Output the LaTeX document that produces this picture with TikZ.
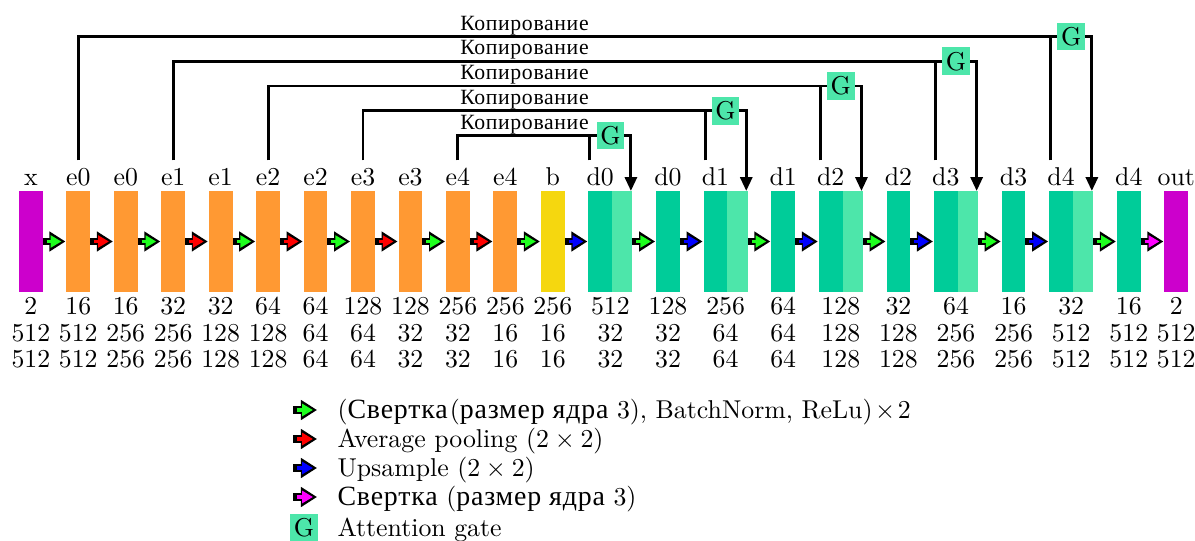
\documentclass[tikz,border=0pt]{standalone}
\usepackage{fontspec}
\newfontfamily\cyr{Liberation Serif}[Scale=1.08, LetterSpace=3.0]
\usetikzlibrary{arrows.meta}

\definecolor{inmag}{RGB}{204,0,204}
\definecolor{encor}{RGB}{255,153,51}
\definecolor{botyel}{RGB}{245,215,15}
\definecolor{decteal}{RGB}{0,204,153}
\definecolor{gatemint}{RGB}{77,230,170}
\definecolor{opgreen}{RGB}{30,255,30}
\definecolor{opred}{RGB}{255,0,0}
\definecolor{opblue}{RGB}{0,0,255}
\definecolor{oppink}{RGB}{255,0,255}

\tikzset{
  bar/.style={draw=none, minimum width=9.19pt, minimum height=39.15pt, inner sep=0pt, outer sep=0pt},
  catbar/.style={bar, fill=gatemint, minimum width=7.87pt},
  lbl/.style={anchor=base, inner xsep=1pt, inner ysep=2.6pt, text height=6.9pt, text depth=0pt},
  num/.style={anchor=base, inner sep=1pt},
  copylbl/.style={anchor=base, font=\cyr\fontsize{7.8}{10}\selectfont, inner sep=1pt},
  gate/.style={fill=gatemint, minimum size=10.66pt, inner sep=0pt, outer sep=0pt},
  skip/.style={line width=1.16pt},
  skiparrow/.style={skip, -{Triangle[length=5.4pt,width=4.65pt]}},
  opout/.style={line width=3pt, -{Triangle[length=6.2pt,width=7.4pt]}},
  opin/.style={line width=1.3pt, draw=#1, -{Triangle[length=4.2pt,width=4.6pt]}},
  legtext/.style={anchor=base west, inner sep=0pt},
}

% operation arrow between two blocks: black body with a coloured core
\newcommand\oparr[3]{%
  \draw[opout] (#1.east) -- ([xshift=-0.39pt]#2.west);
  \draw[opin=#3] ([xshift=1.55pt]#1.east) -- ([xshift=-1.94pt]#2.west);
}
% the same arrow between two free coordinates (legend)
\newcommand\legarr[3]{%
  \draw[opout] (#1) -- ([xshift=-0.39pt]#2);
  \draw[opin=#3] ([xshift=1.55pt]#1) -- ([xshift=-1.94pt]#2);
}

\begin{document}
\begin{tikzpicture}[x=0.3876pt, y=-0.3876pt]
\useasboundingbox (0,0) rectangle (1195,541);

% ---------- blocks ----------
\node[bar, fill=inmag]   (b0)  at (30.85,241.5) {};
\node[bar, fill=encor]   (b1)  at (78.3,241.5) {};
\node[bar, fill=encor]   (b2)  at (125.75,241.5) {};
\node[bar, fill=encor]   (b3)  at (173.2,241.5) {};
\node[bar, fill=encor]   (b4)  at (220.65,241.5) {};
\node[bar, fill=encor]   (b5)  at (268.1,241.5) {};
\node[bar, fill=encor]   (b6)  at (315.55,241.5) {};
\node[bar, fill=encor]   (b7)  at (363,241.5) {};
\node[bar, fill=encor]   (b8)  at (410.45,241.5) {};
\node[bar, fill=encor]   (b9)  at (457.9,241.5) {};
\node[bar, fill=encor]   (b10) at (505.35,241.5) {};
\node[bar, fill=botyel]  (b11) at (552.8,241.5) {};
\node[bar, fill=decteal] (b12) at (600.25,241.5) {};
\node[catbar]            (c12) at (622.25,241.5) {};
\node[bar, fill=decteal] (b13) at (668,241.5) {};
\node[bar, fill=decteal] (b14) at (715.45,241.5) {};
\node[catbar]            (c14) at (737.6,241.5) {};
\node[bar, fill=decteal] (b15) at (783.2,241.5) {};
\node[bar, fill=decteal] (b16) at (830.65,241.5) {};
\node[catbar]            (c16) at (852.8,241.5) {};
\node[bar, fill=decteal] (b17) at (898.4,241.5) {};
\node[bar, fill=decteal] (b18) at (945.85,241.5) {};
\node[catbar]            (c18) at (968,241.5) {};
\node[bar, fill=decteal] (b19) at (1013.6,241.5) {};
\node[bar, fill=decteal] (b20) at (1061.05,241.5) {};
\node[catbar]            (c20) at (1083.2,241.5) {};
\node[bar, fill=decteal] (b21) at (1128.8,241.5) {};
\node[bar, fill=inmag]   (b22) at (1176.25,241.5) {};

% ---------- operations ----------
\oparr{b0}{b1}{opgreen}
\oparr{b1}{b2}{opred}
\oparr{b2}{b3}{opgreen}
\oparr{b3}{b4}{opred}
\oparr{b4}{b5}{opgreen}
\oparr{b5}{b6}{opred}
\oparr{b6}{b7}{opgreen}
\oparr{b7}{b8}{opred}
\oparr{b8}{b9}{opgreen}
\oparr{b9}{b10}{opred}
\oparr{b10}{b11}{opgreen}
\oparr{b11}{b12}{opblue}
\oparr{c12}{b13}{opgreen}
\oparr{b13}{b14}{opblue}
\oparr{c14}{b15}{opgreen}
\oparr{b15}{b16}{opblue}
\oparr{c16}{b17}{opgreen}
\oparr{b17}{b18}{opblue}
\oparr{c18}{b19}{opgreen}
\oparr{b19}{b20}{opblue}
\oparr{c20}{b21}{opgreen}
\oparr{b21}{b22}{oppink}

% ---------- block names ----------
\foreach \cx/\t [count=\i from 0] in {30.85/x, 78.3/e0, 125.75/e0, 173.2/e1, 220.65/e1,
    268.1/e2, 315.55/e2, 363/e3, 410.45/e3, 457.9/e4, 505.35/e4, 552.8/b,
    600.25/d0, 668/d0, 715.45/d1, 783.2/d1, 830.65/d2, 898.4/d2, 945.85/d3,
    1013.6/d3, 1061.05/d4, 1128.8/d4, 1176.25/out}
  \node[lbl] (t\i) at (\cx,185.5) {\t};

% ---------- tensor shapes ----------
\foreach \cx/\a/\b/\c [count=\i from 0] in {30.85/2/512/512, 78.3/16/512/512,
    125.75/16/256/256, 173.2/32/256/256, 220.65/32/128/128, 268.1/64/128/128,
    315.55/64/64/64, 363/128/64/64, 410.45/128/32/32, 457.9/256/32/32,
    505.35/256/16/16, 552.8/256/16/16, 610.4/512/32/32, 668/128/32/32,
    725.6/256/64/64, 783.2/64/64/64, 840.8/128/128/128, 898.4/32/128/128,
    956/64/256/256, 1013.6/16/256/256, 1071.2/32/512/512, 1128.8/16/512/512,
    1176.25/2/512/512}
{
  \node[num] (na\i) at (\cx,314) {\a};
  \node[num] (nb\i) at (\cx,341) {\b};
  \node[num] (nc\i) at (\cx,367.5) {\c};
}

% ---------- attention gates ----------
\coordinate (gA) at (1071.2,36.5);
\coordinate (gB) at (956,61.25);
\coordinate (gC) at (840.8,86);
\coordinate (gD) at (725.6,110.75);
\coordinate (gE) at (610.4,135.5);

% skip connections: encoder -> gate, decoder -> gate, gate -> concatenation
\foreach \e/\d/\g in {t1/20/gA, t3/18/gB, t5/16/gC, t7/14/gD, t9/12/gE} {
  \draw[skip] (\e.north) |- (\g);
  \draw[skip] ([xshift=0.58pt]b\d.west |- t\d.north) -- ([xshift=0.58pt]b\d.west |- \g);
  \draw[skiparrow] (\g) -| ([xshift=-0.58pt]c\d.north east);
}
\node[gate] (gate4) at (gA) {G};
\node[gate] (gate3) at (gB) {G};
\node[gate] (gate2) at (gC) {G};
\node[gate] (gate1) at (gD) {G};
\node[gate] (gate0) at (gE) {G};

\node[copylbl] (cp0) at (524.5,30) {Копирование};
\node[copylbl] (cp1) at (524.5,54.75) {Копирование};
\node[copylbl] (cp2) at (524.5,79.5) {Копирование};
\node[copylbl] (cp3) at (524.5,104.25) {Копирование};
\node[copylbl] (cp4) at (524.5,129) {Копирование};

% ---------- legend ----------
\coordinate (la1) at (293,410);   \coordinate (lb1) at (318,410);
\coordinate (la2) at (293,439);   \coordinate (lb2) at (318,439);
\coordinate (la3) at (293,468);   \coordinate (lb3) at (318,468);
\coordinate (la4) at (293,497);   \coordinate (lb4) at (318,497);
\legarr{la1}{lb1}{opgreen}
\legarr{la2}{lb2}{opred}
\legarr{la3}{lb3}{opblue}
\legarr{la4}{lb4}{oppink}
\node[gate] (lg) at (304,527.5) {G};

\node[legtext] (lt1) at (337,418.5) {({\cyr Свертка}\kern0.8pt({\cyr размер ядра} 3), BatchNorm, ReLu)\kern1pt$\times$\kern1pt2};
\node[legtext] (lt2) at (337,447.5) {Average pooling $(2\times2)$};
\node[legtext] (lt3) at (337,476.5) {Upsample $(2\times2)$};
\node[legtext] (lt4) at (337,505.5) {{\cyr Свертка} ({\cyr размер ядра} 3)};
\node[legtext] (lt5) at (337,536.5) {Attention gate};
\end{tikzpicture}
\end{document}
